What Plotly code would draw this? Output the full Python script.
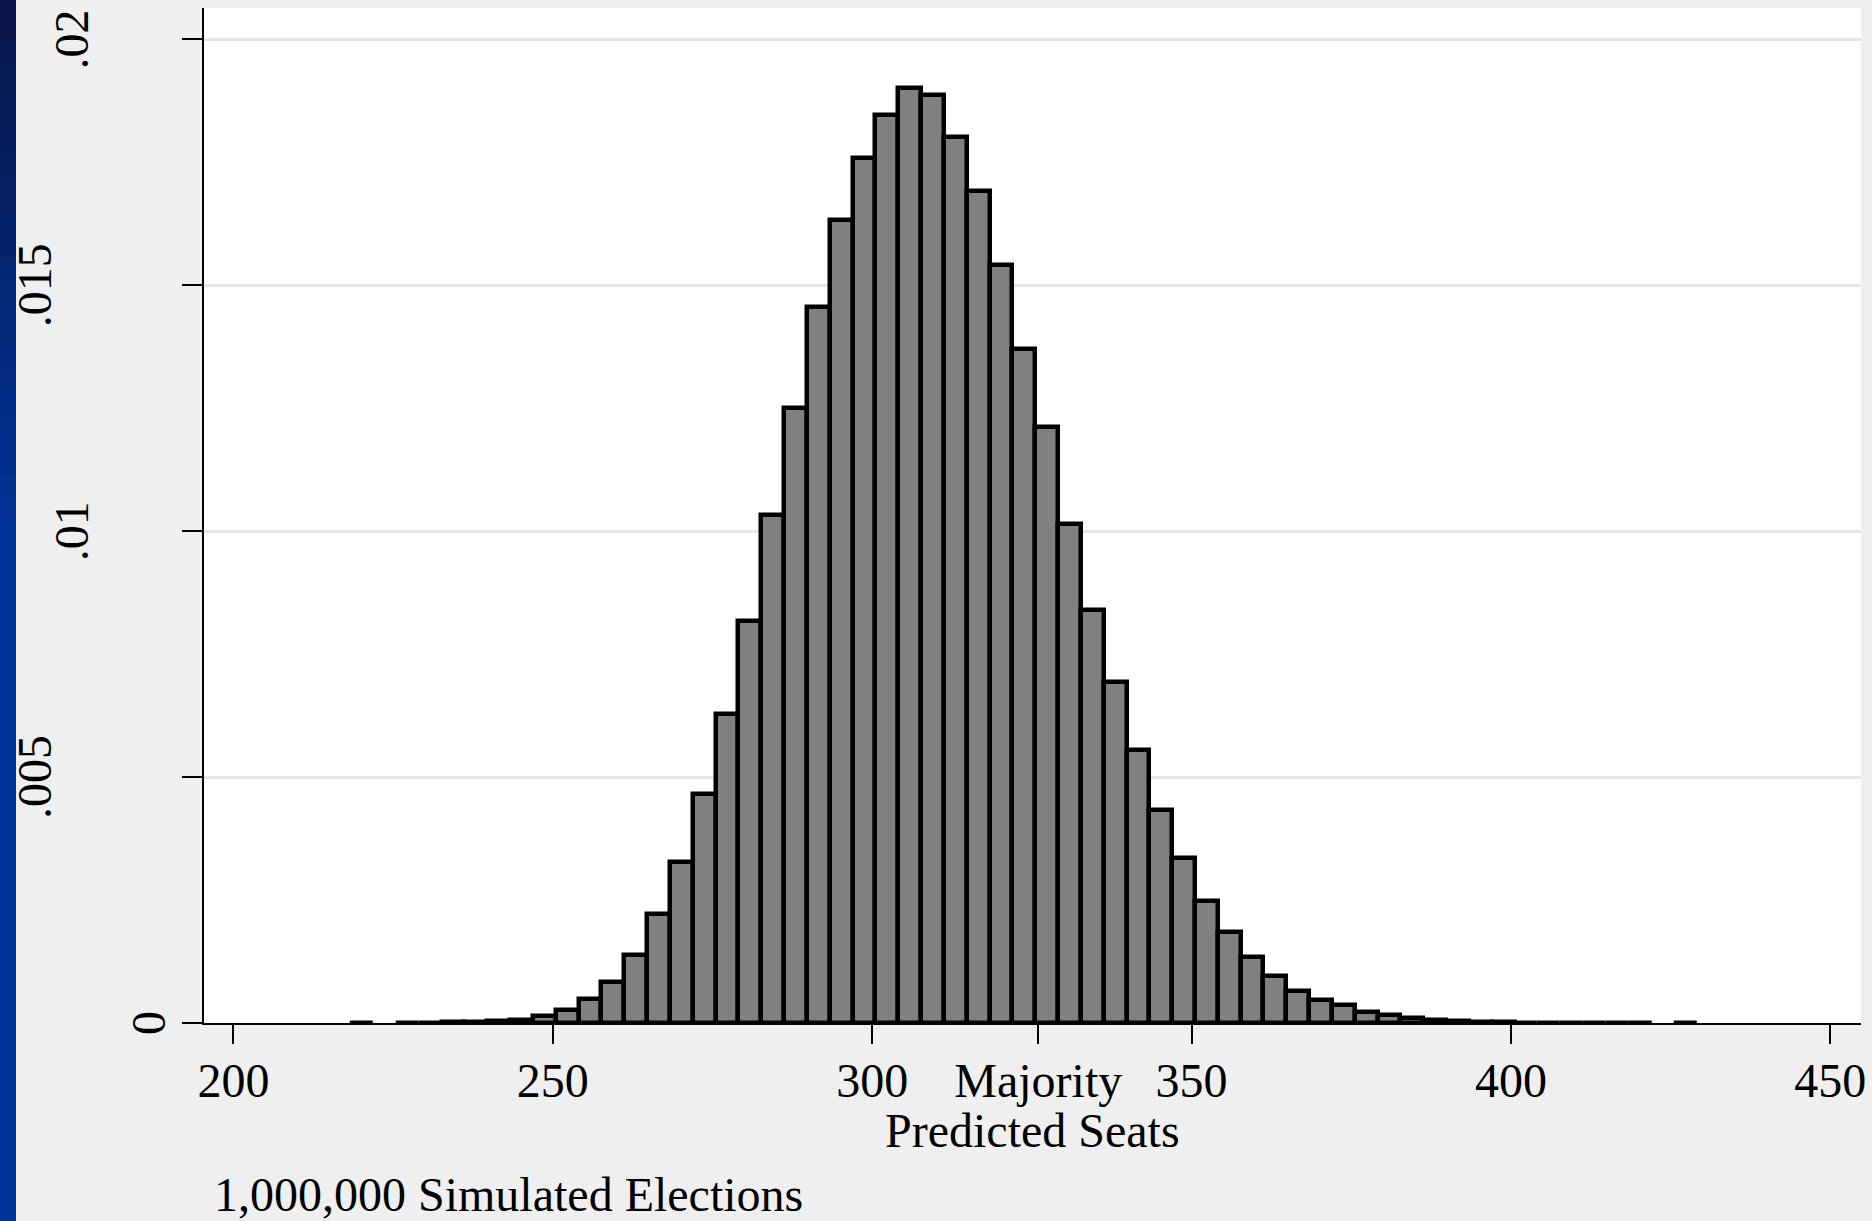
import numpy as np
import plotly.graph_objects as go

# ---- data ----
bin_start = 218.3          # left edge of first histogram bin (seats)
bin_width = 3.574          # histogram bin width (seats)
density = [0.00001, None, 0.00001, 0.00001, 0.00002, 0.00002, 0.00004, 0.00007,
           0.00014, 0.00026, 0.00049, 0.00084, 0.00139, 0.00222, 0.00327, 0.00466,
           0.00629, 0.00818, 0.01034, 0.01250, 0.01457, 0.01633, 0.01758, 0.01847,
           0.01902, 0.01887, 0.01802, 0.01692, 0.01541, 0.01371, 0.01211, 0.01014,
           0.00840, 0.00693, 0.00556, 0.00433, 0.00335, 0.00249, 0.00186, 0.00135,
           0.00095, 0.00065, 0.00047, 0.00036, 0.00023, 0.00017, 0.00010, 0.00007,
           0.00005, 0.00002, 0.00002, 0.00001, 0.00001, 0.00001, 0.00001, 0.00001,
           0.00001, None, 0.00001]
x_tickvals = [200, 250, 300, 326, 350, 400, 450]
x_ticktext = ["200", "250", "300", "Majority", "350", "400", "450"]
y_tickvals = [0, 0.005, 0.01, 0.015, 0.02]
y_ticktext = ["0", ".005", ".01", ".015", ".02"]
x_title = "Predicted Seats"
note_text = "1,000,000 Simulated Elections"

# ---- layout constants ----
W, H = 1872, 1221
ML, MR, MT, MB = 204, 11, 8, 198
PW, PH = W - ML - MR, H - MT - MB
FONT = "Liberation Serif"
FS = 48

centers = bin_start + bin_width * (np.arange(len(density)) + 0.5)

fig = go.Figure()
fig.add_trace(go.Bar(
    x=centers, y=density, width=bin_width,
    marker=dict(color="#808080", line=dict(color="black", width=4.5)),
    showlegend=False, hoverinfo="skip",
))

# staggered, rotated y tick labels as in the reference
y_label_px = {"0": 148, ".005": 34, ".01": 71, ".015": 34, ".02": 71}
annotations = []
for v, t in zip(y_tickvals, y_ticktext):
    annotations.append(dict(
        x=0, xref="paper", y=v, yref="y", text=t, showarrow=False,
        textangle=-90, xanchor="center", yanchor="middle",
        xshift=y_label_px[t] - ML,
        font=dict(family=FONT, size=FS, color="black"),
    ))
# x-axis title
annotations.append(dict(
    x=0.5, xref="paper", y=-(1130 - MT - PH) / PH, yref="paper",
    text=x_title, showarrow=False, xanchor="center", yanchor="middle",
    font=dict(family=FONT, size=FS, color="black"),
))
# footnote
annotations.append(dict(
    x=(212 - ML) / PW, xref="paper", y=-(1194 - MT - PH) / PH, yref="paper",
    text=note_text, showarrow=False, xanchor="left", yanchor="middle",
    font=dict(family=FONT, size=FS, color="black"),
))

# left dark-blue slide strip (vertical gradient)
shapes = []
n_bands = 24
top_c = np.array([8, 22, 72])
bot_c = np.array([0, 51, 153])
grad_end = 520
for i in range(n_bands):
    y0px = grad_end * i / n_bands
    y1px = grad_end * (i + 1) / n_bands + 2
    c = top_c + (bot_c - top_c) * (i + 0.5) / n_bands
    shapes.append(dict(
        type="rect", xref="paper", yref="paper", layer="above",
        x0=-(ML + 2) / PW, x1=(16 - ML) / PW,
        y0=1 - (y0px - MT - 2) / PH, y1=1 - (y1px - MT) / PH,
        fillcolor="rgb(%d,%d,%d)" % tuple(c.astype(int)), line=dict(width=0),
    ))
shapes.append(dict(
    type="rect", xref="paper", yref="paper", layer="above",
    x0=-(ML + 2) / PW, x1=(16 - ML) / PW,
    y0=1 - (grad_end - MT) / PH, y1=-(MB + 4) / PH,
    fillcolor="rgb(0,51,153)", line=dict(width=0),
))

fig.update_layout(
    template="none",
    width=W, height=H,
    margin=dict(l=ML, r=MR, t=MT, b=MB, pad=0, autoexpand=False),
    paper_bgcolor="#efefef", plot_bgcolor="white",
    bargap=0,
    font=dict(family=FONT, size=FS, color="black"),
    annotations=annotations, shapes=shapes,
    xaxis=dict(
        automargin=False,
        range=[195.4, 454.8], tickvals=x_tickvals, ticktext=x_ticktext,
        ticks="outside", ticklen=19, tickwidth=2, tickcolor="black",
        ticklabelstandoff=-5,
        showline=True, linecolor="black", linewidth=2,
        showgrid=False, zeroline=False,
        tickfont=dict(family=FONT, size=FS, color="black"),
    ),
    yaxis=dict(
        automargin=False,
        range=[0, 0.02064], tickvals=y_tickvals, showticklabels=False,
        ticks="outside", ticklen=20, tickwidth=2, tickcolor="black",
        showline=True, linecolor="black", linewidth=2,
        showgrid=True, gridcolor="#e6e6e6", gridwidth=3, zeroline=False,
    ),
)

fig.write_html("out.html", config={"displayModeBar": False},
               post_script="document.body.style.margin='0px';document.body.style.padding='0px';")
